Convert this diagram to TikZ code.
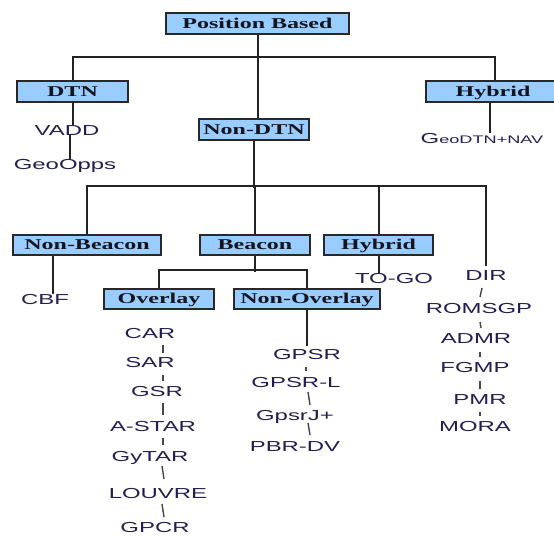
\documentclass[tikz,border=0pt]{standalone}
\usepackage{fontspec}
\usetikzlibrary{calc}
\newfontfamily\boxfont[FakeStretch=1.6]{Liberation Serif}
\newfontfamily\labfont[FakeStretch=1.65]{Liberation Sans}
\definecolor{boxfill}{RGB}{153,204,255}
\definecolor{boxline}{RGB}{40,40,40}
\definecolor{boxtext}{RGB}{20,20,30}
\definecolor{labtext}{RGB}{35,30,80}
\definecolor{connline}{RGB}{35,35,35}
\definecolor{tickline}{RGB}{70,70,70}
\begin{document}
\begin{tikzpicture}[x=1pt,y=-1pt,
  cat/.style={draw=boxline, fill=boxfill, line width=1.9pt, inner sep=0pt,
    minimum height=20.5pt, text height=10pt, text depth=0pt,
    font=\boxfont\bfseries\fontsize{15}{18}\selectfont, text=boxtext},
  lab/.style={inner sep=0pt, text height=10.4pt, text depth=0pt,
    font=\labfont\fontsize{14.5}{17}\selectfont, text=labtext},
  conn/.style={draw=connline, line width=2pt},
  tickln/.style={draw=tickline, line width=1.4pt}]
\useasboundingbox (0,0) rectangle (554,537);
\fill[white] (0,0) rectangle (554,537);

% category boxes
\node[cat, minimum width=183pt] (PB) at (257.5,23.5) {Position Based};
\node[cat, minimum width=111pt] (DTN) at (72.5,91.5) {DTN};
\node[cat, minimum width=134pt] (HybT) at (493,91.5) {Hybrid};
\node[cat, minimum width=110pt] (NonDTN) at (254,129.5) {Non-DTN};
\node[cat, minimum width=148pt] (NB) at (87,245) {Non-Beacon};
\node[cat, minimum width=110pt] (Bea) at (255,245) {Beacon};
\node[cat, minimum width=109pt] (Hyb2) at (378.5,245) {Hybrid};
\node[cat, minimum width=110pt] (Ov) at (159,299) {Overlay};
\node[cat, minimum width=146pt] (NOv) at (307,299) {Non-Overlay};

% labels
\node[lab] (VADD) at (67,130) {VADD};
\node[lab] (GeoOpps) at (65,164) {GeoOpps};
\node[lab] (GeoDTN) at (482,138) {{\fontsize{14.5}{17}\selectfont G}{\fontsize{11}{13}\selectfont eoDTN+NAV}};
\node[lab] (CBF) at (45,299) {CBF};
\node[lab] (TOGO) at (394,278) {TO-GO};
\node[lab] (DIR) at (486,275) {DIR};
\node[lab] (ROMSGP) at (479,308) {ROMSGP};
\node[lab] (ADMR) at (476,338) {ADMR};
\node[lab] (FGMP) at (475,367) {FGMP};
\node[lab] (PMR) at (480,399) {PMR};
\node[lab] (MORA) at (475,426) {MORA};
\node[lab] (GPSR) at (307,354) {GPSR};
\node[lab] (GPSRL) at (296,382) {GPSR-L};
\node[lab] (GpsrJ) at (295,415) {GpsrJ+};
\node[lab] (PBRDV) at (295,446) {PBR-DV};
\node[lab] (CAR) at (150,333) {CAR};
\node[lab] (SAR) at (150,362) {SAR};
\node[lab] (GSR) at (157,391) {GSR};
\node[lab] (ASTAR) at (153,426) {A-STAR};
\node[lab] (GyTAR) at (150,456) {GyTAR};
\node[lab] (LOUVRE) at (158,493) {LOUVRE};
\node[lab] (GPCR) at (155,527) {GPCR};

% tree connectors
\draw[conn] (PB.south) -- (PB.south |- NonDTN.north);
\draw[conn] (DTN.north) -- ++(0,-23) -| ([xshift=2pt]HybT.north);
\draw[conn] (DTN.south) -- (DTN.south |- VADD.north);
\draw[conn] ([xshift=3pt]VADD.south) -- ([xshift=5pt]GeoOpps.north);
\draw[conn] ([xshift=8pt]GeoDTN.north |- HybT.south) -- ([xshift=8pt]GeoDTN.north);
\draw[conn] (NonDTN.south) -- ++(0,47);
\draw[conn, shorten >=4pt] (NB.north) -- ++(0,-48) -| (DIR.north);
\draw[conn] (Bea.north) -- ++(0,-48);
\draw[conn] (Hyb2.north) -- ++(0,-48);
\draw[conn] ([xshift=-34pt]NB.south) -- ([xshift=8pt]CBF.north);
\draw[conn] (Bea.south) -- ++(0,16);
\draw[conn] (Ov.north) -- ++(0,-18) -| (NOv.north);
\draw[conn] (Hyb2.south) -- (Hyb2.south |- TOGO.north);
\draw[conn, shorten >=3pt] (NOv.south) -- (NOv.south |- GPSR.north);

% short ticks between labels
\draw[tickln] ($(CAR)+(13,12)$) -- ($(SAR)+(13,-9)$);
\draw[tickln] ($(SAR)+(13,13)$) -- ($(GSR)+(6,-10)$);
\draw[tickln] ($(GSR)+(6,12)$) -- ($(ASTAR)+(10,-11)$);
\draw[tickln] ($(ASTAR)+(10,12)$) -- ($(GyTAR)+(13,-11)$);
\draw[tickln] ($(GyTAR)+(12,10)$) -- ($(LOUVRE)+(6,-14)$);
\draw[tickln] ($(LOUVRE)+(4,11)$) -- ($(GPCR)+(9,-10)$);
\draw[tickln] ($(GPSR)+(-1,13)$) -- ($(GPSRL)+(10,-11)$);
\draw[tickln] ($(GPSRL)+(12,10)$) -- ($(GpsrJ)+(15,-10)$);
\draw[tickln] ($(GpsrJ)+(13,8)$) -- ($(PBRDV)+(15,-11)$);
\draw[tickln] ($(DIR)+(-4,13)$) -- ($(ROMSGP)+(1,-11)$);
\draw[tickln] ($(ROMSGP)+(1,14)$) -- ($(ADMR)+(5,-10)$);
\draw[tickln] ($(ADMR)+(4,14)$) -- ($(FGMP)+(5,-10)$);
\draw[tickln] ($(FGMP)+(5,14)$) -- ($(PMR)+(0,-10)$);
\draw[tickln] ($(PMR)+(0,13)$) -- ($(MORA)+(5,-10)$);
\end{tikzpicture}
\end{document}
